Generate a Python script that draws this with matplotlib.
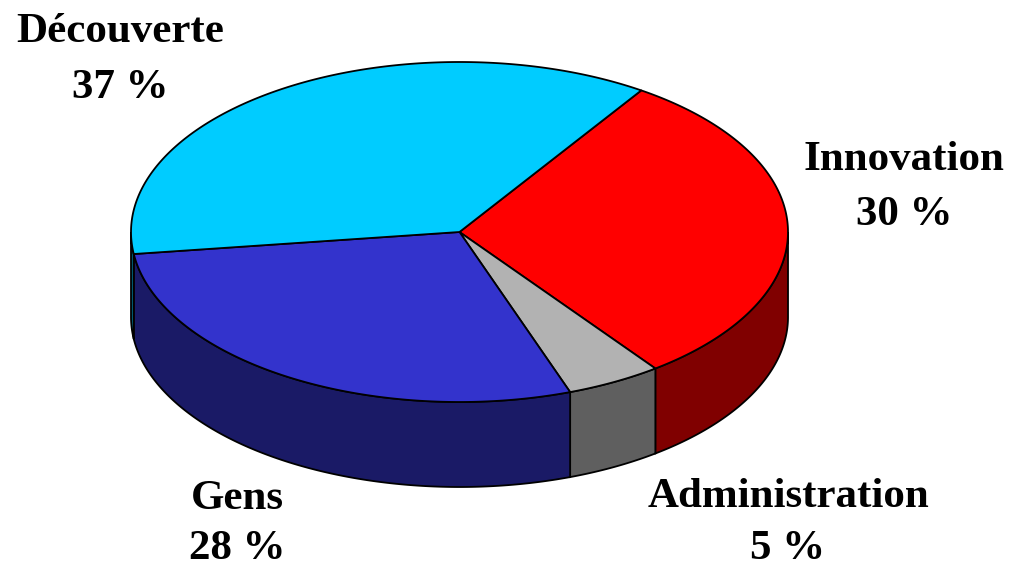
import numpy as np
import matplotlib
matplotlib.use("Agg")
import matplotlib.pyplot as plt

# Slices, clockwise starting from the Innovation edge
labels = ["Innovation", "Administration", "Gens", "Découverte"]
# printed percentages
printed = [30, 5, 28, 37]
# shares as measured on the drawn slices (printed ones are rounded)
values = [30.5, 4.7, 28.4, 36.4]
top_colors = ["#ff0000", "#b2b2b2", "#3333cc", "#00ccff"]
side_colors = ["#800000", "#5f5f5f", "#1a1a66", "#006680"]
name_pos = [(904, 160), (788, 497), (237, 499), (120, 32)]
pct_pos = [(904, 215), (788, 549), (237, 549), (120, 88)]

START = 56.4      # angle of first edge, degrees
CX, CY = 459.5, 232
RX, RY = 328.5, 170
DEPTH = 85
EDGE = "black"

plt.rcParams["font.family"] = ["Liberation Serif", "DejaVu Serif"]

fig = plt.figure(figsize=(10.09, 5.68), dpi=100)
ax = fig.add_axes([0, 0, 1, 1])
ax.set_xlim(0, 1009)
ax.set_ylim(568, 0)
ax.axis("off")


def arc(a0, a1, dy=0):
    t = np.radians(np.linspace(a0, a1, 200))
    return CX + RX * np.cos(t), CY + dy - RY * np.sin(t)


# edges of each slice from the values
angles = START - np.cumsum([0] + values) * 3.6

# side walls first, only the part of the rim facing us (angles 180..360)
for i in range(len(values)):
    a0, a1 = angles[i], angles[i + 1]
    for shift in (0, -360):
        lo = max(a1 + shift, -180)
        hi = min(a0 + shift, 0)
        if lo >= hi:
            continue
        x, y = arc(hi, lo)
        xb, yb = arc(lo, hi, DEPTH)
        ax.fill(np.r_[x, xb], np.r_[y, yb], facecolor=side_colors[i],
                edgecolor=EDGE, linewidth=1.3, zorder=2)

# top faces
for i in range(len(values)):
    x, y = arc(angles[i], angles[i + 1])
    ax.fill(np.r_[CX, x], np.r_[CY, y], facecolor=top_colors[i],
            edgecolor=EDGE, linewidth=1.3, zorder=3)

for i, name in enumerate(labels):
    ax.text(*name_pos[i], name, ha="center", va="center", fontsize=31, fontweight="bold", color="black")
    ax.text(*pct_pos[i], f"{printed[i]} %", ha="center", va="center", fontsize=31, fontweight="bold", color="black")

fig.savefig("out.png", dpi=100, facecolor="white")
